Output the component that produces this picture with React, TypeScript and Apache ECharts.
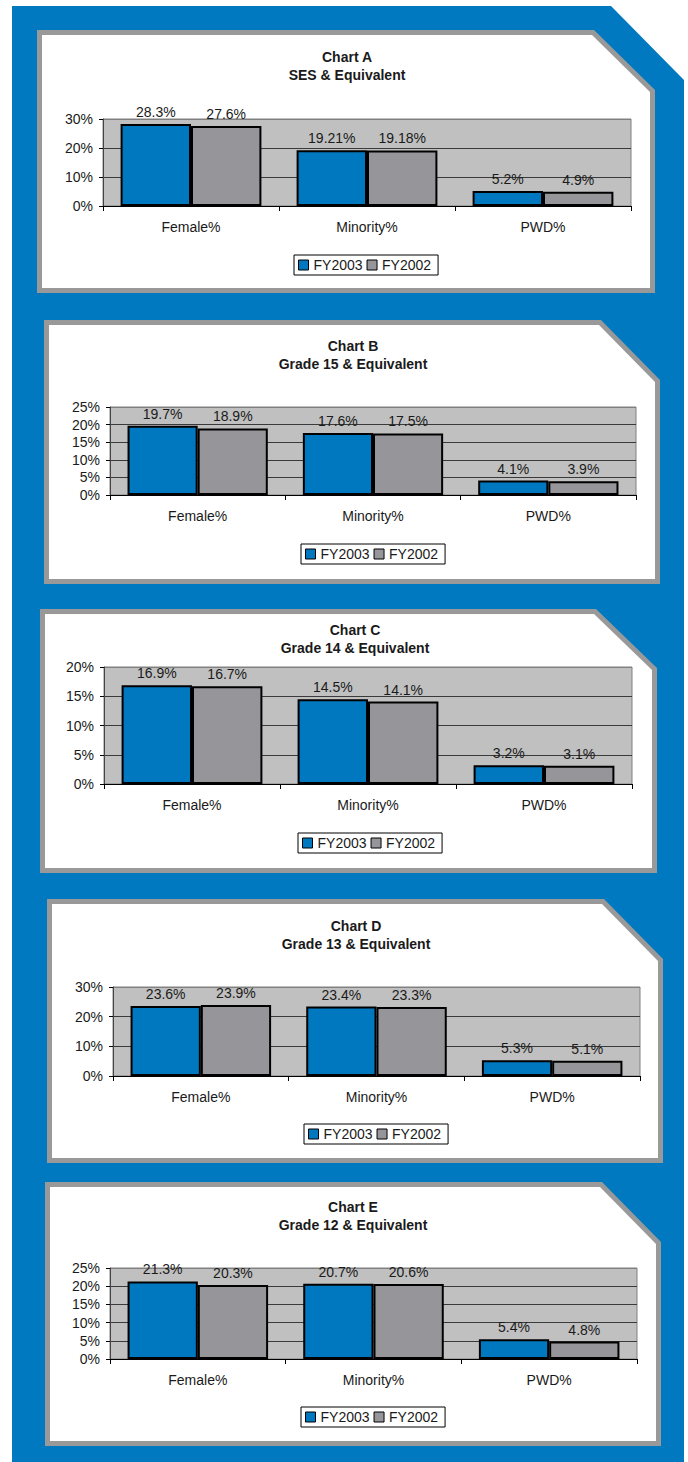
import React, { useEffect, useRef } from "react";
import * as echarts from "echarts";

const CATEGORIES = ["Female%", "Minority%", "PWD%"];
const SERIES_NAMES = ["FY2003", "FY2002"];
const CHART_NAMES = ["Chart A", "Chart B", "Chart C", "Chart D", "Chart E"];
const CHART_SUBTITLES = [
  "SES & Equivalent",
  "Grade 15 & Equivalent",
  "Grade 14 & Equivalent",
  "Grade 13 & Equivalent",
  "Grade 12 & Equivalent",
];

const A_FY2003 = [28.3, 19.21, 5.2];
const A_FY2002 = [27.6, 19.18, 4.9];
const B_FY2003 = [19.7, 17.6, 4.1];
const B_FY2002 = [18.9, 17.5, 3.9];
const C_FY2003 = [16.9, 14.5, 3.2];
const C_FY2002 = [16.7, 14.1, 3.1];
const D_FY2003 = [23.6, 23.4, 5.3];
const D_FY2002 = [23.9, 23.3, 5.1];
const E_FY2003 = [21.3, 20.7, 5.4];
const E_FY2002 = [20.3, 20.6, 4.8];

const FY2003_SETS = [A_FY2003, B_FY2003, C_FY2003, D_FY2003, E_FY2003];
const FY2002_SETS = [A_FY2002, B_FY2002, C_FY2002, D_FY2002, E_FY2002];

const Y_MAX = [30, 25, 20, 30, 25];
const Y_INTERVAL = [10, 5, 5, 10, 5];

// layout (pixels)
const PANELS = [
  { x0: 37, y0: 30, x1: 655, y1: 293, dx: 594, dy: 90, tx: 347, ty: 57, grid: [103, 119, 528, 87], legend: [294, 255] },
  { x0: 44, y0: 320, x1: 660, y1: 584, dx: 601, dy: 380, tx: 353, ty: 346, grid: [110, 407, 526, 88], legend: [301, 544] },
  { x0: 40, y0: 609, x1: 657, y1: 873, dx: 596, dy: 668, tx: 355, ty: 630, grid: [104, 667, 528, 117], legend: [298, 833] },
  { x0: 47, y0: 899, x1: 663, y1: 1163, dx: 604, dy: 959, tx: 356, ty: 926, grid: [113, 987, 527, 89], legend: [304, 1124] },
  { x0: 45, y0: 1182, x1: 661, y1: 1446, dx: 602, dy: 1242, tx: 353, ty: 1207, grid: [110, 1268, 527, 91], legend: [301, 1407] },
];

const FONT = '"Liberation Sans", Arial, Helvetica, sans-serif';
const BLUE = "#0079c1";
const BAR_BLUE = "#0078c0";
const BAR_GREY = "#96969a";
const PANEL_BORDER = "#999999";
const PLOT_BG = "#c0c0c0";
const TEXT = "#1a1a1a";

export default function App() {
  const ref = useRef<HTMLDivElement>(null);

  useEffect(() => {
    if (!ref.current) return;
    const chart = echarts.init(ref.current, null, { renderer: "svg" });

    const graphic: any[] = [
      {
        type: "polygon",
        z: -100,
        shape: { points: [[12, 6], [611, 6], [684, 80], [684, 1462], [12, 1462]] },
        style: { fill: BLUE },
      },
    ];
    PANELS.forEach((p, i) => {
      const b = 5;
      graphic.push({
        type: "polygon",
        z: -90,
        shape: { points: [[p.x0, p.y0], [p.dx, p.y0], [p.x1, p.dy], [p.x1, p.y1], [p.x0, p.y1]] },
        style: { fill: PANEL_BORDER },
      });
      graphic.push({
        type: "polygon",
        z: -80,
        shape: {
          points: [
            [p.x0 + b, p.y0 + b],
            [p.dx - 2, p.y0 + b],
            [p.x1 - b, p.dy + 2],
            [p.x1 - b, p.y1 - b],
            [p.x0 + b, p.y1 - b],
          ],
        },
        style: { fill: "#ffffff" },
      });
      graphic.push({
        type: "text",
        z: 10,
        x: p.tx,
        y: p.ty + 9,
        style: {
          text: CHART_NAMES[i] + "\n" + CHART_SUBTITLES[i],
          align: "center",
          verticalAlign: "middle",
          fill: TEXT,
          fontSize: 14,
          fontWeight: "bold",
          fontFamily: FONT,
          lineHeight: 18,
        },
      });
    });

    const grids = PANELS.map((p) => ({
      left: p.grid[0],
      top: p.grid[1],
      width: p.grid[2],
      height: p.grid[3],
      show: true,
      backgroundColor: PLOT_BG,
      borderColor: "#808080",
      borderWidth: 1,
      containLabel: false,
    }));

    const xAxes = PANELS.map((_, i) => ({
      type: "category",
      gridIndex: i,
      data: CATEGORIES,
      axisLine: { show: true, lineStyle: { color: "#000", width: 1 } },
      axisTick: { show: true, length: 5, lineStyle: { color: "#000" }, alignWithLabel: false },
      axisLabel: { margin: 14, fontSize: 14, color: TEXT, fontFamily: FONT },
      splitLine: { show: false },
    }));

    const yAxes = PANELS.map((_, i) => {
      const n = Y_MAX[i] / Y_INTERVAL[i] + 1;
      const colors: string[] = [];
      for (let k = 0; k < n; k++) colors.push(k === n - 1 ? "#808080" : "#3a3a3a");
      return {
        type: "value",
        gridIndex: i,
        min: 0,
        max: Y_MAX[i],
        interval: Y_INTERVAL[i],
        axisLine: { show: true, lineStyle: { color: "#444", width: 1 } },
        axisTick: { show: true, length: 4, lineStyle: { color: "#000" } },
        axisLabel: { margin: 10, fontSize: 14, color: TEXT, fontFamily: FONT, formatter: "{value}%" },
        splitLine: { show: true, lineStyle: { color: colors, width: 1 } },
      };
    });

    const labelCfg = {
      show: true,
      position: "top",
      distance: 5,
      fontSize: 14,
      color: TEXT,
      fontFamily: FONT,
      formatter: (p: any) => String(p.value) + "%",
    };

    const series: any[] = [];
    PANELS.forEach((_, i) => {
      series.push({
        type: "bar",
        name: SERIES_NAMES[0],
        xAxisIndex: i,
        yAxisIndex: i,
        data: FY2003_SETS[i],
        barGap: "0%",
        barCategoryGap: "20%",
        itemStyle: { color: BAR_BLUE, borderColor: "#000", borderWidth: 2 },
        label: labelCfg,
      });
      series.push({
        type: "bar",
        name: SERIES_NAMES[1],
        xAxisIndex: i,
        yAxisIndex: i,
        data: FY2002_SETS[i],
        barGap: "0%",
        barCategoryGap: "20%",
        itemStyle: { color: BAR_GREY, borderColor: "#000", borderWidth: 2 },
        label: labelCfg,
      });
    });

    const legends = PANELS.map((p) => ({
      left: p.legend[0],
      top: p.legend[1],
      data: SERIES_NAMES,
      orient: "horizontal",
      icon: "rect",
      itemWidth: 10,
      itemHeight: 10,
      itemGap: 4,
      padding: [3, 7, 3, 4],
      borderColor: "#000",
      borderWidth: 1,
      backgroundColor: "#fff",
      selectedMode: false,
      textStyle: { fontSize: 14, color: TEXT, fontFamily: FONT },
      itemStyle: { borderColor: "#000", borderWidth: 1 },
    }));

    chart.setOption({
      animation: false,
      backgroundColor: "#ffffff",
      graphic,
      grid: grids,
      xAxis: xAxes,
      yAxis: yAxes,
      legend: legends,
      series,
    });

    return () => chart.dispose();
  }, []);

  return (
    <div
      ref={ref}
      style={{ position: "absolute", left: 0, top: 0, width: 688, height: 1462 }}
    />
  );
}
